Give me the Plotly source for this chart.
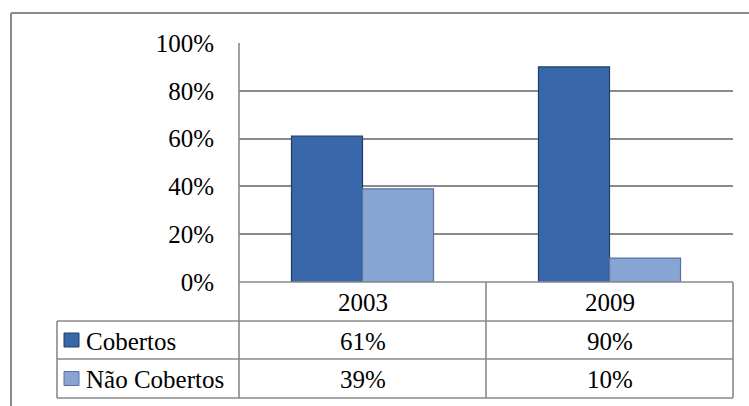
import plotly.graph_objects as go

# ---- data ----
categories = ["2003", "2009"]
series_names = ["Cobertos", "Não Cobertos"]
cobertos = [0.61, 0.90]
nao_cobertos = [0.39, 0.10]
y_ticks = [0, 0.2, 0.4, 0.6, 0.8, 1.0]
y_tick_labels = ["0%", "20%", "40%", "60%", "80%", "100%"]

W, H = 749, 406
FONT = "'Liberation Serif', 'Times New Roman', 'DejaVu Serif', serif"
FS = 25
LINE = "#8a8a8a"
colors = ["#3868aa", "#88a4d3"]
outlines = ["#1f3f6b", "#5a72a0"]

# layout geometry in pixels
PL, PR, PT, PB = 239, 733, 43, 282
ROWS = [282, 321, 359, 398]
LABEL_L = 57

def px(x):
    return x / W

def py(y):
    return 1 - y / H

fig = go.Figure()
for name, vals, c, oc in zip(series_names, [cobertos, nao_cobertos], colors, outlines):
    fig.add_trace(go.Bar(
        x=categories, y=vals, name=name,
        marker=dict(color=c, line=dict(color=oc, width=1.2)),
        showlegend=False,
    ))

shapes = []
def line(x0, y0, x1, y1, w=1.6, color=LINE):
    shapes.append(dict(type="line", xref="paper", yref="paper",
                       x0=px(x0), y0=py(y0), x1=px(x1), y1=py(y1),
                       line=dict(color=color, width=w), layer="above"))

# outer chart border
line(11, 13, 11, 406, w=2)
line(11, 13, 749, 13, w=2)
# table lines
for y in ROWS[1:]:
    line(LABEL_L, y, PR, y)
line(PL, PB, PR, PB)
line(LABEL_L, ROWS[1], LABEL_L, ROWS[-1])
line(PL, PT, PL, ROWS[-1])
col_div = (PL + PR) / 2
line(col_div, PB, col_div, ROWS[-1])
line(PR, PB, PR, ROWS[-1])

annotations = []
def text(x, y, s, xanchor="center"):
    annotations.append(dict(xref="paper", yref="paper", x=px(x), y=py(y), text=s,
                            showarrow=False, xanchor=xanchor, yanchor="middle",
                            font=dict(family=FONT, size=FS, color="black")))

# header row: categories
col_centers = [(PL + col_div) / 2, (col_div + PR) / 2]
for cx, cat in zip(col_centers, categories):
    text(cx, (ROWS[0] + ROWS[1]) / 2 + 1, cat)
# value rows
for r, (name, vals, c, oc) in enumerate(zip(series_names, [cobertos, nao_cobertos], colors, outlines)):
    yc = (ROWS[r + 1] + ROWS[r + 2]) / 2 + 1
    shapes.append(dict(type="rect", xref="paper", yref="paper",
                       x0=px(64), x1=px(79), y0=py(yc - 8), y1=py(yc + 6),
                       fillcolor=c, line=dict(color=oc, width=1)))
    text(84, yc, name, xanchor="left")
    for cx, v in zip(col_centers, vals):
        text(cx, yc, f"{round(v * 100)}%")

fig.update_layout(
    width=W, height=H, autosize=False,
    margin=dict(l=0, r=0, t=0, b=0, pad=0, autoexpand=False),
    paper_bgcolor="white", plot_bgcolor="white",
    font=dict(family=FONT, size=FS, color="black"),
    barmode="group", bargap=0.425, bargroupgap=0,
    xaxis=dict(domain=[px(PL), px(PR)], showticklabels=False, showgrid=False,
               zeroline=False, showline=False, fixedrange=True, automargin=False),
    yaxis=dict(domain=[py(PB), py(PT)], range=[0, 1], tickvals=y_ticks,
               ticktext=y_tick_labels, showgrid=True, gridcolor=LINE, gridwidth=1.6,
               zeroline=False, showline=False, ticks="", ticklabelstandoff=24,
               automargin=False,
               tickfont=dict(family=FONT, size=FS, color="black"), fixedrange=True),
    shapes=shapes,
    annotations=annotations,
)

fig.write_html("out.html")
